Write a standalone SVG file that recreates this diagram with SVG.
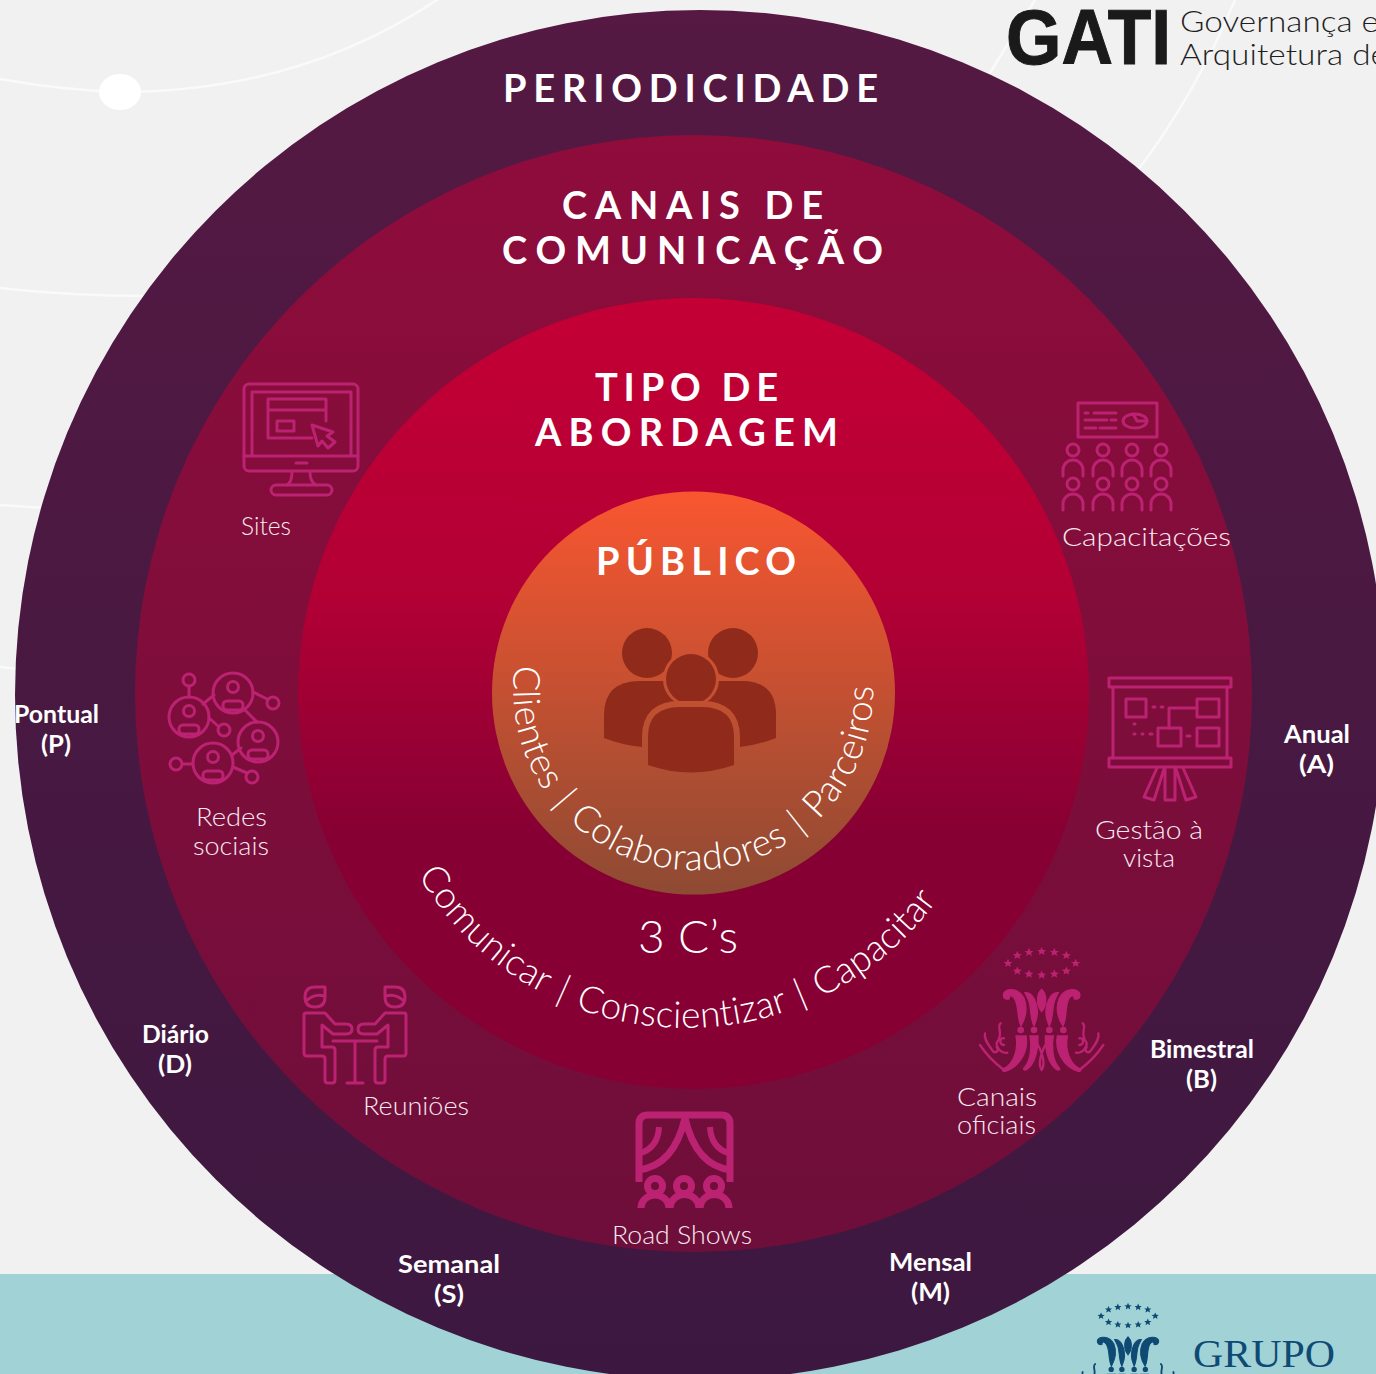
<svg xmlns="http://www.w3.org/2000/svg" xmlns:xlink="http://www.w3.org/1999/xlink" width="1376" height="1374" viewBox="0 0 1376 1374">
<style>
text{font-family:"Lato","Liberation Sans",sans-serif;fill:#fff}
.t{font-weight:700;font-size:38px;font-family:"Lato","Liberation Sans",sans-serif}
.l{font-weight:300;font-size:26px;fill:#f7e9ef}
.b{font-weight:700;font-size:25px}
.c{font-weight:300;font-size:37px}
.i{fill:none;stroke:#bc2272;stroke-width:3;stroke-linecap:round;stroke-linejoin:round}
.bg{fill:none;stroke:#fafafa;stroke-width:2.5}
</style>
<defs>
<linearGradient id="g1" gradientUnits="userSpaceOnUse" x1="0" y1="10" x2="0" y2="1374"><stop offset="0" stop-color="#551943"/><stop offset="1" stop-color="#3c1840"/></linearGradient>
<linearGradient id="g2" gradientUnits="userSpaceOnUse" x1="0" y1="135" x2="0" y2="1252"><stop offset="0" stop-color="#8f0c3b"/><stop offset="1" stop-color="#6e0e3a"/></linearGradient>
<linearGradient id="g3" gradientUnits="userSpaceOnUse" x1="0" y1="298" x2="0" y2="1089"><stop offset="0" stop-color="#c40035"/><stop offset="0.38" stop-color="#b20035"/><stop offset="0.685" stop-color="#860033"/><stop offset="1" stop-color="#860033"/></linearGradient>
<linearGradient id="g4" gradientUnits="userSpaceOnUse" x1="0" y1="491" x2="0" y2="895"><stop offset="0" stop-color="#f95630"/><stop offset="1" stop-color="#8e4a33"/></linearGradient>
<path id="arc1" d="M515,665 A180,180 0 1 0 872.6,675"/>
<path id="arc2" d="M418,875 A311,311 0 0 0 976,829"/>
<g id="pers" class="i"><circle cx="0" cy="0" r="6"/><path d="M-10,26V20A10,10 0 0 1 10,20V26"/></g>
<g id="usr"><circle class="i" r="20"/><circle class="i" cy="-6" r="5.5"/><rect class="i" x="-10" y="8" width="20" height="9" rx="4"/></g>
<circle id="dot" class="i" r="6"/>
<polygon id="star" points="0,-5 1.5,-1.6 5,-1.5 2.3,.7 3.2,4.2 0,2.2 -3.2,4.2 -2.3,.7 -5,-1.5 -1.5,-1.6" fill="currentColor" transform="scale(2.7)"/>
<g id="mono" fill="currentColor" stroke="none">
<g><use href="#star" transform="translate(245,64)"/><use href="#star" transform="translate(207,67)"/><use href="#star" transform="translate(283,67)"/><use href="#star" transform="translate(172,76)"/><use href="#star" transform="translate(319,76)"/><use href="#star" transform="translate(144,100)"/><use href="#star" transform="translate(347,100)"/><use href="#star" transform="translate(172,123)"/><use href="#star" transform="translate(319,123)"/><use href="#star" transform="translate(207,132)"/><use href="#star" transform="translate(283,132)"/><use href="#star" transform="translate(245,135)"/></g>
<g stroke="currentColor" stroke-width="4">
<path d="M130,195C130,175 175,170 192,205C204,235 196,265 183,288C170,262 178,228 163,205C155,193 146,196 148,206C140,210 130,206 130,195Z"/>
<path d="M360,195C360,175 315,170 298,205C286,235 294,265 309,288C322,262 314,228 327,205C335,193 344,196 342,206C350,210 360,206 360,195Z"/>
<path d="M195,188C220,185 234,225 232,250C232,265 226,278 222,288C210,265 214,230 206,212C202,200 198,195 195,188Z"/>
<path d="M295,188C270,185 256,225 258,250C258,265 264,278 268,288C280,265 276,230 284,212C288,200 292,195 295,188Z"/>
<path d="M245,178C258,190 262,215 252,235L245,245L238,235C228,215 232,190 245,178Z"/>
<path d="M168,318H198C206,360 182,410 135,424C125,424 125,416 135,414C160,400 176,360 168,318Z"/>
<path d="M322,318H292C284,360 308,410 355,424C365,424 365,416 355,414C330,400 314,360 322,318Z"/>
<path d="M210,318H234C236,350 228,395 205,415C195,424 185,420 195,410C212,390 216,350 210,318Z"/>
<path d="M280,318H256C254,350 262,395 285,415C295,424 305,420 295,410C278,390 274,350 280,318Z"/>
</g>
<circle cx="182" cy="300" r="10"/><circle cx="222" cy="300" r="10"/><circle cx="268" cy="300" r="10"/><circle cx="310" cy="300" r="10"/>
<g fill="none" stroke="currentColor" stroke-width="7" stroke-linecap="round"><path d="M245,420C232,400 245,360 262,335M245,420C258,400 245,360 228,335"/><path d="M60,345C80,375 105,400 132,420M75,310C70,330 90,350 100,365C110,370 118,362 110,352M122,280C108,290 132,310 112,335C105,345 120,372 142,368M132,325C120,320 115,345 132,345"/><path d="M430,345C410,375 385,400 358,420M415,310C420,330 400,350 390,365C380,370 372,362 380,352M368,280C382,290 358,310 378,335C385,345 370,372 348,368M358,325C370,320 375,345 358,345"/></g>
</g>
</defs>
<rect width="1376" height="1374" fill="#f1f1f1"/>
<rect y="1274" width="1376" height="100" fill="#a1d2d6"/>
<g id="background-lines">
<path class="bg" d="M0,79Q60,90 120,92Q300,92 440,-2"/>
<path class="bg" d="M0,288Q70,296 150,296"/>
<path class="bg" d="M0,505L45,508"/>
<path class="bg" d="M0,667L18,669"/>
<path class="bg" d="M1035,0L988,76"/>
<path class="bg" d="M1235,0Q1195,95 1138,170"/>
<ellipse cx="120" cy="92" rx="21" ry="18" fill="#fff"/>
</g>
<g id="logo-gati">
<text x="1006" y="64" font-size="78" textLength="165" lengthAdjust="spacingAndGlyphs" stroke="#1a1a1a" stroke-width="1" style="font-family:'Liberation Sans',sans-serif;font-weight:700;fill:#1a1a1a">GATI</text>
<text x="1180" y="32" font-size="30" textLength="199" lengthAdjust="spacingAndGlyphs" style="font-weight:300;fill:#1f1f1f">Governança e</text>
<text x="1180" y="65" font-size="30" textLength="208" lengthAdjust="spacingAndGlyphs" style="font-weight:300;fill:#1f1f1f">Arquitetura de</text>
</g>
<g id="logo-grupo" style="color:#0e4a73">
<use href="#mono" transform="translate(1062.6,1289.3) scale(.267)"/>
<text x="1193" y="1367" font-size="41" textLength="142" lengthAdjust="spacingAndGlyphs" style="font-family:'Liberation Serif',serif;fill:#0e4a73">GRUPO</text>
</g>
<g id="ring-periodicidade">
<circle cx="700" cy="695" r="685" fill="url(#g1)"/>
<text class="t" x="503" y="102" textLength="375">PERIODICIDADE</text>
<g text-anchor="start">
<text class="b" x="14" y="723" textLength="85" lengthAdjust="spacingAndGlyphs">Pontual</text><text class="b" x="41" y="753" textLength="30" lengthAdjust="spacingAndGlyphs">(P)</text>
<text class="b" x="142" y="1043" textLength="67" lengthAdjust="spacingAndGlyphs">Diário</text><text class="b" x="158" y="1073" textLength="34" lengthAdjust="spacingAndGlyphs">(D)</text>
<text class="b" x="398" y="1273" textLength="102" lengthAdjust="spacingAndGlyphs">Semanal</text><text class="b" x="434" y="1303" textLength="30" lengthAdjust="spacingAndGlyphs">(S)</text>
<text class="b" x="889" y="1271" textLength="83" lengthAdjust="spacingAndGlyphs">Mensal</text><text class="b" x="911" y="1301" textLength="39" lengthAdjust="spacingAndGlyphs">(M)</text>
<text class="b" x="1150" y="1058" textLength="104" lengthAdjust="spacingAndGlyphs">Bimestral</text><text class="b" x="1186" y="1088" textLength="31" lengthAdjust="spacingAndGlyphs">(B)</text>
<text class="b" x="1284" y="743" textLength="66" lengthAdjust="spacingAndGlyphs">Anual</text><text class="b" x="1299" y="773" textLength="35" lengthAdjust="spacingAndGlyphs">(A)</text>
</g>
</g>
<g id="ring-canais">
<circle cx="693.5" cy="693.5" r="558.5" fill="url(#g2)"/>
<text class="t" x="562" y="219" textLength="261">CANAIS DE</text>
<text class="t" x="502" y="264" textLength="381">COMUNICAÇÃO</text>
</g>
<g id="ring-abordagem">
<circle cx="693.5" cy="693.5" r="395.5" fill="url(#g3)"/>
<text class="t" x="595" y="401" textLength="183">TIPO DE</text>
<text class="t" x="535" y="446" textLength="303">ABORDAGEM</text>
<text class="c" style="font-size:46px" x="638" y="953" textLength="100">3 C’s</text>
<text class="c" word-spacing="2.5" letter-spacing=".3"><textPath href="#arc2" startOffset="0">Comunicar | Conscientizar | Capacitar</textPath></text>
</g>
<g id="ring-publico">
<circle cx="693.5" cy="693" r="201.5" fill="url(#g4)"/>
<text class="t" x="596" y="575" textLength="200">PÚBLICO</text>
<g fill="#902a1a">
<circle cx="647" cy="653" r="25"/><circle cx="733" cy="653" r="25"/>
<path d="M604,738V715Q604,681 640,681H742Q776,681 776,715V738Q758,745 740,747H642Q622,745 604,738Z"/>
<circle cx="691" cy="679" r="25" stroke="url(#g4)" stroke-width="6" paint-order="stroke"/>
<path d="M648,765V737Q648,707 680,707H702Q734,707 734,737V765Q691,780 648,765Z" stroke="url(#g4)" stroke-width="12" paint-order="stroke"/>
</g>
<text class="c" word-spacing="3" letter-spacing=".6"><textPath href="#arc1" startOffset="0">Clientes | Colaboradores | Parceiros</textPath></text>
</g>
<g id="node-sites">
<g class="i">
<rect x="244" y="384" width="114" height="87" rx="5"/>
<path d="M244,456H358M252,456V392H351V456"/>
<path d="M326,421V399H268V438H312M268,410H326"/>
<rect x="277" y="421" width="17" height="10"/>
<path d="M312,425L333,432L327,436L335,442L328,448L322,441L318,446Z"/>
<path d="M296,463H307M292,472Q292,482 287,485M310,472Q310,482 316,485"/>
<rect x="271" y="485" width="61" height="10" rx="5"/>
</g>
<text class="l" x="241" y="535" textLength="50" lengthAdjust="spacingAndGlyphs">Sites</text>
</g>
<g id="node-capacitacoes">
<g class="i">
<rect x="1078" y="403" width="79" height="34"/>
<path d="M1085,413H1088M1094,413H1116M1085,420H1107M1111,420H1116M1085,428H1096M1100,428H1116"/>
<ellipse cx="1135" cy="421" rx="12" ry="7"/><path d="M1133,414L1137,421L1146,421"/>
</g>
<use href="#pers" x="1073" y="450"/><use href="#pers" x="1103" y="450"/><use href="#pers" x="1132" y="450"/><use href="#pers" x="1161" y="450"/>
<use href="#pers" x="1073" y="484"/><use href="#pers" x="1103" y="484"/><use href="#pers" x="1132" y="484"/><use href="#pers" x="1161" y="484"/>
<text class="l" x="1062" y="546" textLength="169" lengthAdjust="spacingAndGlyphs">Capacitações</text>
</g>
<g id="node-gestao">
<g class="i">
<rect x="1109" y="678" width="122" height="9"/>
<rect x="1109" y="758" width="122" height="9"/>
<path d="M1113,687V758M1227,687V758"/>
<rect x="1126" y="699" width="20" height="18"/><rect x="1197" y="699" width="22" height="18"/><rect x="1158" y="728" width="23" height="18"/><rect x="1197" y="728" width="22" height="18"/>
<path d="M1169,728V708H1197M1153,707H1155M1161,707H1163M1134,724H1135M1134,734H1135M1142,734H1143M1150,734H1152M1187,736H1190"/>
<path d="M1165,767V800H1175V767M1157,768L1144,797L1154,800L1164,769M1183,768L1196,797L1186,800L1176,769"/>
</g>
<text class="l" x="1095" y="839" textLength="108" lengthAdjust="spacingAndGlyphs">Gestão à</text>
<text class="l" x="1123" y="867" textLength="52" lengthAdjust="spacingAndGlyphs">vista</text>
</g>
<g id="node-redes">
<use href="#usr" x="189" y="717"/><use href="#usr" x="233" y="693"/><use href="#usr" x="258" y="742"/><use href="#usr" x="213" y="763"/>
<use href="#dot" x="189" y="680"/><use href="#dot" x="273" y="703"/><use href="#dot" x="224" y="730"/><use href="#dot" x="176" y="764"/><use href="#dot" x="252" y="777"/>
<path class="i" d="M189,686V697M203,704L214,695M253,692L267,699M245,710L257,722M209,718L218,726M232,755L241,748M183,764H193M233,767L247,773"/>
<text class="l" x="196" y="826" textLength="71" lengthAdjust="spacingAndGlyphs">Redes</text>
<text class="l" x="193" y="855" textLength="76" lengthAdjust="spacingAndGlyphs">sociais</text>
</g>
<g id="node-reunioes">
<g id="reuniao-a" class="i">
<path d="M325,987H315Q305,987 305,997Q305,1007 315,1007Q325,1007 325,997ZM306,1001Q315,993 324,996"/>
<path d="M333,1034H346Q352,1034 352,1029Q352,1024 346,1024H335L325,1013H306Q304,1013 304,1015V1053Q304,1056 307,1056H322Q325,1056 325,1059V1080Q325,1083 328,1083H332Q335,1083 335,1080V1050Q335,1047 332,1047H322V1025Z"/>
</g>
<use href="#reuniao-a" transform="matrix(-1 0 0 1 710 0)"/>
<path class="i" d="M333,1041H377M355,1041V1083M347,1083H363"/>
<text class="l" x="363" y="1115" textLength="106" lengthAdjust="spacingAndGlyphs">Reuniões</text>
</g>
<g id="node-roadshows">
<g fill="none" stroke="#bc2272" stroke-width="7">
<path d="M639,1182V1124Q639,1115 648,1115H721Q730,1115 730,1124V1182"/>
<path d="M685,1118Q674,1166 638,1170M685,1118Q696,1166 731,1170"/>
<path d="M659,1127Q658,1147 641,1153M710,1127Q711,1147 728,1153" stroke-width="6"/>
<circle cx="655" cy="1186" r="7.5"/><circle cx="684" cy="1186" r="7.5"/><circle cx="714" cy="1186" r="7.5"/>
<path d="M641,1208A14,13 0 0 1 669,1208M670,1208A14,13 0 0 1 699,1208M700,1208A14,13 0 0 1 729,1208"/>
</g>
<text class="l" x="612" y="1244" textLength="140" lengthAdjust="spacingAndGlyphs">Road Shows</text>
</g>
<g id="node-canais" style="color:#bc2272">
<use href="#mono" transform="translate(960,930) scale(.3333)"/>
<text class="l" x="957" y="1106" textLength="80" lengthAdjust="spacingAndGlyphs">Canais</text>
<text class="l" x="957" y="1134" textLength="79" lengthAdjust="spacingAndGlyphs">oficiais</text>
</g>
</svg>
